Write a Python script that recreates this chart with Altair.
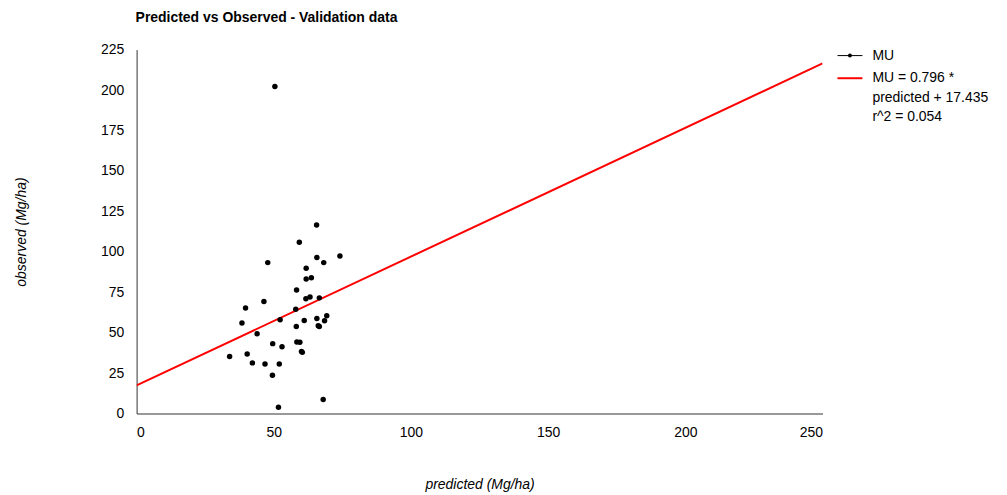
import altair as alt
import pandas as pd

# Observed vs predicted (Mg/ha)
predicted = [50.4, 65.6, 59.3, 47.8, 65.7, 68.2, 74.1, 61.8, 61.8, 63.7,
             58.3, 46.4, 39.7, 61.7, 63.2, 66.6, 58.0, 52.3, 38.4, 61.1,
             65.7, 69.3, 68.5, 66.2, 66.6, 58.2, 43.9, 49.6, 53.0, 58.4,
             59.5, 60.1, 60.4, 33.9, 40.3, 42.2, 46.8, 52.0, 49.5, 51.7, 68.0]
observed = [202.2, 116.5, 105.9, 93.3, 96.4, 93.3, 97.4, 89.8, 83.2, 84.0,
            76.3, 69.2, 65.2, 70.9, 72.1, 71.5, 64.5, 58.0, 55.9, 57.5,
            58.8, 60.4, 57.3, 54.3, 53.8, 53.8, 49.3, 43.2, 41.3, 44.2,
            44.0, 38.4, 37.8, 35.3, 36.8, 31.3, 30.6, 30.6, 23.6, 3.9, 8.6]

slope = 0.796
intercept = 17.435
fit_x = [0, 250]
fit_y = [intercept + slope * v for v in fit_x]

x_ticks = [0, 50, 100, 150, 200, 250]
y_ticks = [0, 25, 50, 75, 100, 125, 150, 175, 200, 225]

legend_labels = ["MU"]
fit_label_lines = ["MU = 0.796 *", "predicted + 17.435", "r^2 = 0.054"]

FONT = "Liberation Sans"
W, H = 688, 365

pts = pd.DataFrame({"predicted": predicted, "observed": observed})
fit = pd.DataFrame({"predicted": fit_x, "observed": fit_y})

xs = alt.Scale(domain=[0, 250], nice=False, zero=True)
ys = alt.Scale(domain=[0, 225], nice=False, zero=True)

xax = alt.Axis(values=x_ticks, title="predicted (Mg/ha)", grid=False, ticks=False,
               domainColor="#333333", labelFontSize=14, labelColor="#000000",
               labelFont=FONT, labelPadding=12, titleFont=FONT, titleFontSize=14,
               titleFontStyle="italic", titleFontWeight="normal", titleColor="#000000",
               titlePadding=38)
yax = alt.Axis(values=y_ticks, title="observed  (Mg/ha)", grid=False, ticks=False,
               domainColor="#333333", labelFontSize=14, labelColor="#000000",
               labelFont=FONT, labelPadding=13, titleFont=FONT, titleFontSize=14,
               titleFontStyle="italic", titleFontWeight="normal", titleColor="#000000",
               titleX=-115, titleY=H / 2, titleAngle=-90, titleBaseline="middle",
               titleAlign="center")

line = alt.Chart(fit).mark_line(color="#ff0000", strokeWidth=2, clip=True).encode(
    x=alt.X("predicted:Q", scale=xs, axis=xax),
    y=alt.Y("observed:Q", scale=ys, axis=yax),
)

points = alt.Chart(pts).mark_circle(color="#000000", size=30, opacity=1).encode(
    x=alt.X("predicted:Q", scale=xs),
    y=alt.Y("observed:Q", scale=ys),
)

# Manual legend (placed to the right of the plot area)
leg_df = pd.DataFrame({"k": [0]})
lx0, lx1 = 703, 728
leg_mu_line = alt.Chart(leg_df).mark_rule(color="#000000", strokeWidth=1).encode(
    x=alt.value(lx0), x2=alt.value(lx1), y=alt.value(6))
leg_mu_dot = alt.Chart(leg_df).mark_circle(color="#000000", size=16, opacity=1).encode(
    x=alt.value((lx0 + lx1) / 2), y=alt.value(6))
leg_mu_text = alt.Chart(pd.DataFrame({"t": legend_labels})).mark_text(
    align="left", baseline="middle", font=FONT, fontSize=14, color="#000000").encode(
    x=alt.value(738), y=alt.value(6), text="t:N")
leg_fit_line = alt.Chart(leg_df).mark_rule(color="#ff0000", strokeWidth=2).encode(
    x=alt.value(lx0), x2=alt.value(lx1), y=alt.value(28.7))
leg_fit_text = alt.Chart(pd.DataFrame({"t": [fit_label_lines]})).mark_text(
    align="left", baseline="middle", font=FONT, fontSize=14, color="#000000",
    lineHeight=19.5).encode(x=alt.value(738), y=alt.value(28.7), text="t")

chart = alt.layer(line, points, leg_mu_line, leg_mu_dot, leg_mu_text,
                  leg_fit_line, leg_fit_text).properties(
    width=W, height=H,
    title=alt.TitleParams("Predicted vs Observed - Validation data", anchor="start",
                          frame="group", font=FONT, fontSize=14, fontWeight="bold",
                          color="#000000", offset=18, dx=-1),
    autosize=alt.AutoSizeParams(type="none"),
    padding={"left": 129, "top": 41, "right": 177, "bottom": 79},
).configure_view(stroke=None)

chart.save("out.html", embed_options={"renderer": "svg", "actions": False})
